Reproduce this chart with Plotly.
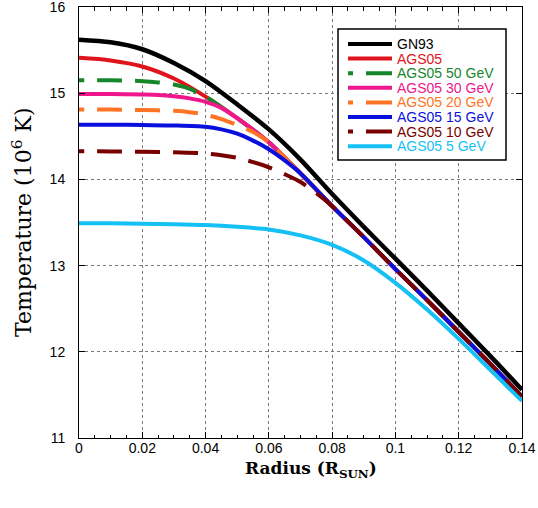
import plotly.graph_objects as go

# ---------------- data ----------------
R = [0, 0.01, 0.02, 0.03, 0.04, 0.05, 0.06, 0.07, 0.08, 0.09, 0.10, 0.11, 0.12, 0.13, 0.14]
gn93 = [15.62, 15.59, 15.51, 15.35, 15.14, 14.87, 14.58, 14.23, 13.83, 13.45, 13.08, 12.71, 12.33, 11.95, 11.56]
ags05 = [15.41, 15.38, 15.31, 15.17, 14.96, 14.71, 14.43, 14.07, 13.69, 13.33, 12.96, 12.60, 12.23, 11.86, 11.48]

r_50 = [0, 0.01, 0.02, 0.025, 0.03, 0.035, 0.04, 0.05, 0.06, 0.07, 0.08, 0.09, 0.10, 0.11, 0.12, 0.13, 0.14]
t_50 = [15.15, 15.15, 15.14, 15.125, 15.10, 15.05, 14.96, 14.71, 14.43, 14.07, 13.69, 13.33, 12.96, 12.60, 12.23, 11.86, 11.48]

r_30 = [0, 0.01, 0.02, 0.025, 0.03, 0.035, 0.04, 0.045, 0.05, 0.06, 0.07, 0.08, 0.09, 0.10, 0.11, 0.12, 0.13, 0.14]
t_30 = [14.99, 14.99, 14.985, 14.98, 14.965, 14.94, 14.90, 14.83, 14.71, 14.43, 14.07, 13.69, 13.33, 12.96, 12.60, 12.23, 11.86, 11.48]

r_20 = [0, 0.01, 0.02, 0.03, 0.035, 0.04, 0.045, 0.05, 0.055, 0.06, 0.07, 0.08, 0.09, 0.10, 0.11, 0.12, 0.13, 0.14]
t_20 = [14.81, 14.81, 14.805, 14.795, 14.78, 14.75, 14.70, 14.63, 14.55, 14.43, 14.07, 13.69, 13.33, 12.96, 12.60, 12.23, 11.86, 11.48]

r_15 = [0, 0.01, 0.02, 0.03, 0.04, 0.045, 0.05, 0.055, 0.06, 0.065, 0.07, 0.08, 0.09, 0.10, 0.11, 0.12, 0.13, 0.14]
t_15 = [14.635, 14.635, 14.63, 14.625, 14.61, 14.58, 14.53, 14.45, 14.35, 14.22, 14.07, 13.69, 13.33, 12.96, 12.60, 12.23, 11.86, 11.48]

r_10 = [0, 0.01, 0.02, 0.03, 0.04, 0.045, 0.05, 0.055, 0.06, 0.065, 0.07, 0.075, 0.08, 0.09, 0.10, 0.11, 0.12, 0.13, 0.14]
t_10 = [14.327, 14.325, 14.32, 14.315, 14.30, 14.28, 14.25, 14.20, 14.14, 14.06, 13.97, 13.84, 13.69, 13.33, 12.96, 12.60, 12.23, 11.86, 11.48]

t_5 = [13.49, 13.49, 13.485, 13.48, 13.47, 13.45, 13.42, 13.35, 13.24, 13.06, 12.80, 12.49, 12.15, 11.79, 11.43]

x_tickvals = [0, 0.02, 0.04, 0.06, 0.08, 0.10, 0.12, 0.14]
x_ticktext = ["0", "0.02", "0.04", "0.06", "0.08", "0.1", "0.12", "0.14"]
y_tickvals = [11, 12, 13, 14, 15, 16]
y_ticktext = ["11", "12", "13", "14", "15", "16"]

names = ["GN93", "AGS05", "AGS05 50 GeV", "AGS05 30 GeV", "AGS05 20 GeV",
         "AGS05 15 GeV", "AGS05 10 GeV", "AGS05 5 GeV"]
colors = ["#000000", "#e0141c", "#16862a", "#f0168c", "#ff7424",
          "#0a10dc", "#780000", "#14c0f4"]
dashed = [False, False, True, False, True, False, True, False]
xs = [R, R, r_50, r_30, r_20, r_15, r_10, R]
ys = [gn93, ags05, t_50, t_30, t_20, t_15, t_10, t_5]

# ---------------- figure ----------------
W, H = 538, 508
ML, MR, MT, MB = 79, 16, 7, 70
PW, PH = W - ML - MR, H - MT - MB

curve_dash = "5px,13px," + ",".join(["25px,13px"] * 40)

fig = go.Figure()
for x, y, n, c, d in zip(xs, ys, names, colors, dashed):
    fig.add_trace(go.Scatter(
        x=x, y=y, name=n, mode="lines",
        line=dict(color=c, width=4.5 if n == "GN93" else 4,
                  shape="spline", smoothing=0.8,
                  dash=curve_dash if d else "solid"),
        showlegend=False))

def px_x(p):
    return (p - ML) / PW

def px_y(p):
    return (MT + PH - p) / PH

shapes = []
annotations = []
# legend box
shapes.append(dict(type="rect", xref="paper", yref="paper",
                   x0=px_x(338), x1=px_x(506), y0=px_y(160), y1=px_y(29),
                   line=dict(color="black", width=1.5), fillcolor="white",
                   layer="above"))
leg_y = [44, 58.6, 73.2, 87.8, 102.4, 117, 131.6, 146.2]
for ly, n, c, d in zip(leg_y, names, colors, dashed):
    shapes.append(dict(type="line", xref="paper", yref="paper",
                       x0=px_x(348), x1=px_x(392), y0=px_y(ly), y1=px_y(ly),
                       line=dict(color=c, width=4,
                                 dash="5px,13px,26px,20px" if d else "solid"),
                       layer="above"))
    annotations.append(dict(xref="paper", yref="paper", x=px_x(395), y=px_y(ly),
                            xanchor="left", yanchor="middle", showarrow=False,
                            text=n, font=dict(family="Liberation Sans", size=14, color=c)))

# axis titles
annotations.append(dict(xref="paper", yref="paper", x=px_x(311), y=px_y(469),
                        xanchor="center", yanchor="middle", showarrow=False,
                        text="Radius (R<sub>SUN</sub>)",
                        font=dict(family="DejaVu Serif", size=17, color="black",
                                  weight="bold")))
annotations.append(dict(xref="paper", yref="paper", x=px_x(22), y=px_y(222),
                        xanchor="center", yanchor="middle", showarrow=False,
                        textangle=-90,
                        text="Temperature (10<sup>6</sup> K)",
                        font=dict(family="DejaVu Serif", size=22, color="black")))

axis_common = dict(showline=True, linecolor="black", linewidth=1, mirror="ticks",
                   ticks="inside", ticklen=6, tickcolor="black",
                   showgrid=True, gridcolor="#7a7a7a", griddash="dot", gridwidth=1,
                   zeroline=False, tickmode="array", ticklabeloverflow="allow",
                   automargin=False,
                   tickfont=dict(family="Liberation Sans", size=14, color="black"))

fig.update_layout(
    width=W, height=H,
    margin=dict(l=ML, r=MR, t=MT, b=MB, autoexpand=False),
    paper_bgcolor="white", plot_bgcolor="white",
    shapes=shapes, annotations=annotations,
    xaxis=dict(range=[0, 0.14], tickvals=x_tickvals, ticktext=x_ticktext,
               minor=dict(tickvals=[v / 1000 for v in range(5, 140, 5)],
                          ticks="inside", ticklen=3.5,
                          tickcolor="black", showgrid=False),
               ticklabelstandoff=-3, **axis_common),
    yaxis=dict(range=[11, 16], tickvals=y_tickvals, ticktext=y_ticktext,
               ticklabelstandoff=10, **axis_common),
)

fig.write_html("out.html",
               config={"displayModeBar": False},
               post_script="document.body.style.margin='0px';")
